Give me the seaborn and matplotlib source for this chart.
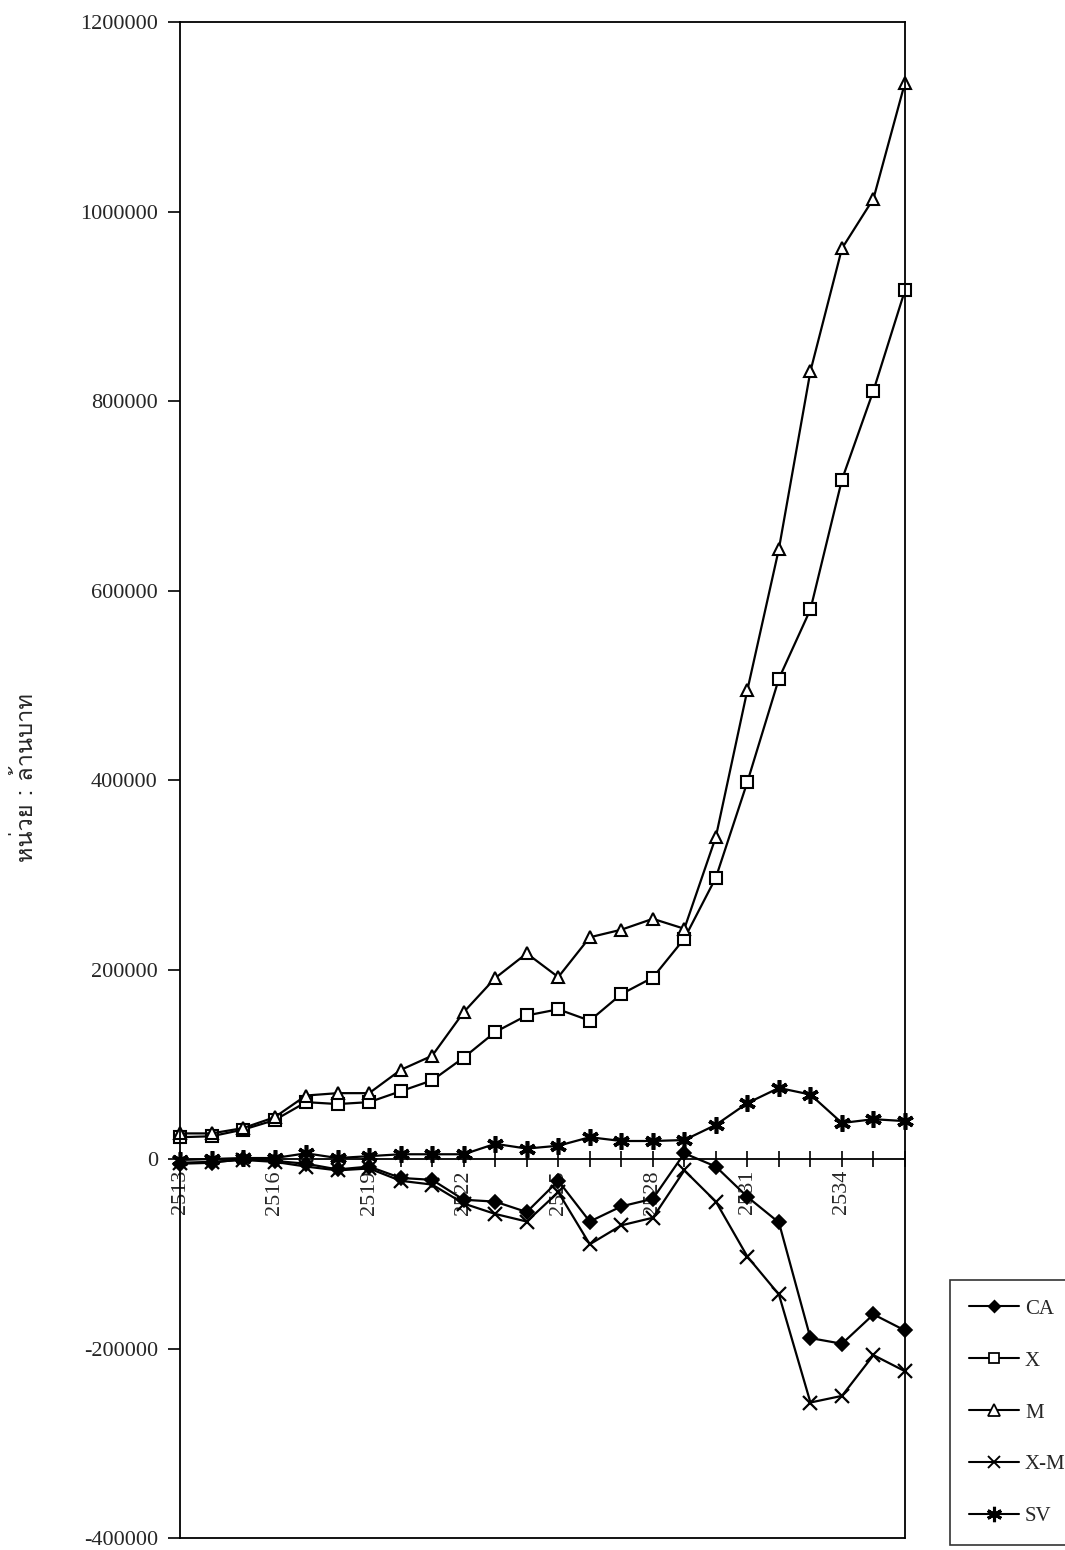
import matplotlib
matplotlib.use("Agg")
import matplotlib.pyplot as plt
from matplotlib import font_manager
from matplotlib.lines import Line2D
import seaborn as sns
import pandas as pd

# ---------------- data ----------------
years = list(range(2513, 2537))
ca = [-5000, -4000, 0, -2000, -5000, -11000, -8000, -20000, -22000, -43000, -45000, -56000,
      -23000, -66000, -50000, -42000, 6000, -8000, -40000, -67000, -189000, -195000, -164000, -181000]
x_exp = [23000, 24000, 31000, 41000, 60000, 58000, 60000, 71500, 83000, 107000, 134000, 151500,
         158000, 146000, 174000, 191500, 232600, 297000, 398000, 507000, 580000, 717000, 811000, 917000]
m_imp = [27000, 27000, 32600, 44000, 67000, 69500, 69500, 94000, 109000, 155000, 191000, 217000,
         192000, 234000, 242000, 253500, 243000, 340000, 495000, 644000, 831500, 961000, 1013600, 1136000]
x_m = [-4000, -3000, -1000, -3000, -8000, -12000, -10000, -23000, -27000, -47000, -58000, -66000,
       -35000, -90000, -70000, -62000, -12000, -45000, -103000, -143000, -257000, -250000, -207000, -224000]
sv = [-1000, 0, 1000, 1000, 6000, 1000, 3000, 5000, 5000, 5000, 16000, 11000,
      14000, 23000, 19000, 19000, 20000, 36000, 59000, 75000, 68000, 38000, 42000, 40000]
series_names = ["CA", "X", "M", "X-M", "SV"]
y_label = "หน่วย : ล้านบาท"
y_ticks = list(range(-400000, 1200001, 200000))
label_years = [y for y in years if (y - 2513) % 3 == 0]

# ---------------- fonts ----------------
sns.set_theme(style="white")
thai_font = None
for f in font_manager.fontManager.ttflist:
    try:
        ft = matplotlib.ft2font.FT2Font(f.fname)
        if 0x0E2B in ft.get_charmap():
            thai_font = f.name
            break
    except Exception:
        pass
serif = ["Liberation Serif", "DejaVu Serif"]
plt.rcParams["font.family"] = serif

values = {"CA": ca, "X": x_exp, "M": m_imp, "X-M": x_m, "SV": sv}
df = pd.DataFrame({"year": years * 5,
                   "value": sum([values[n] for n in series_names], []),
                   "series": sum([[n] * len(years) for n in series_names], [])})

fig = plt.figure(figsize=(10.65, 15.5), dpi=100)
ax = fig.add_axes([180 / 1065, 1 - 1538 / 1550, (905 - 180) / 1065, (1538 - 22) / 1550])

markers = {"CA": "D", "X": "s", "M": "^", "X-M": "x", "SV": (6, 2, 0)}
msize = {"CA": 7, "X": 8, "M": 9, "X-M": 10, "SV": 12}
mew = {"CA": 1.2, "X": 1.5, "M": 1.5, "X-M": 1.6, "SV": 2.6}
for n in series_names:
    sub = df[df["series"] == n]
    sns.lineplot(data=sub, x="year", y="value", ax=ax, color="black", linewidth=1.6,
                 marker=markers[n], markersize=msize[n], markeredgecolor="black",
                 markeredgewidth=mew[n],
                 markerfacecolor="white" if n in ("X", "M") else "black",
                 legend=False, clip_on=False)

ax.set_xlim(years[0], years[-1])
ax.set_ylim(-400000, 1200000)
ax.set_yticks(y_ticks)
ax.set_yticklabels([str(v) for v in y_ticks], fontsize=16)
ax.tick_params(axis="y", direction="out", length=9, width=1.2, color="black", left=True, pad=7)

ax.spines["bottom"].set_position(("data", 0))
for s in ax.spines.values():
    s.set_color("black")
    s.set_linewidth(1.3)
ax.set_xticks(years)
ax.set_xticklabels([str(y) if y in label_years else "" for y in years],
                   rotation=90, fontsize=16, va="top", ha="center")
ax.tick_params(axis="x", direction="inout", length=12, width=1.2, color="black",
               bottom=True, pad=2)
ax.set_xlabel("")
ax.set_ylabel("")
# bottom frame line at the lower limit
ax.plot([0, 1], [0, 0], transform=ax.transAxes, color="black", lw=1.3, clip_on=False)

fig.text(26 / 1065, 1 - 778 / 1550, y_label, rotation=90, va="center", ha="center",
         fontsize=17, family=[thai_font] if thai_font else serif)

handles = [Line2D([0], [0], color="black", lw=1.5, marker=markers[n],
                  markersize=msize[n] - 1,
                  markerfacecolor="white" if n in ("X", "M") else "black",
                  markeredgecolor="black", markeredgewidth=mew[n] * 0.85)
           for n in series_names]
leg = fig.legend(handles, series_names, loc="lower left", bbox_to_anchor=(950 / 1065, 5 / 1550),
                 frameon=True, fancybox=False, edgecolor="black", fontsize=15,
                 labelspacing=1.55, handlelength=2.4, handletextpad=0.3, borderpad=0.9,
                 borderaxespad=0)
leg.get_frame().set_linewidth(1.2)

fig.savefig("out.png", dpi=100, facecolor="white")
